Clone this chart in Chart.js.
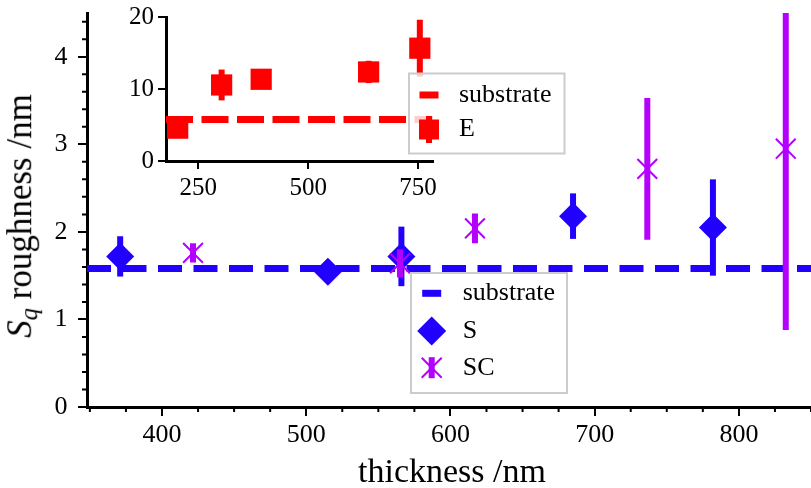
<!DOCTYPE html>
<html>
<head>
<meta charset="utf-8">
<script src="https://cdn.jsdelivr.net/npm/chart.js@4.4.1/dist/chart.umd.min.js"></script>
<style>
  body { margin: 0; background: #fff; }
  #wrap { position: relative; width: 811px; height: 488px; font-family: "Liberation Serif", serif; }
  canvas { position: absolute; left: 0; top: 0; }
  #ylabel { position: absolute; left: 22px; top: 216px; transform: translate(-50%, -50%) rotate(-90deg);
            font-size: 35px; line-height: 1; white-space: nowrap; }
  #xlabel { position: absolute; left: 452px; top: 454px; transform: translateX(-50%);
            font-size: 34px; line-height: 1; white-space: nowrap; }
</style>
</head>
<body>
<div id="wrap">
  <canvas id="mainChart" width="811" height="488"></canvas>
  <canvas id="insetChart" width="600" height="215"></canvas>
  <div id="ylabel"><i>S</i><sub style="font-size:0.7em;vertical-align:-0.25em"><i>q</i></sub> roughness /nm</div>
  <div id="xlabel">thickness /nm</div>
</div>
<script>
// main plot: S and SC samples
const sThickness = [371, 515, 566, 685, 782];
const sRoughness = [1.72, 1.545, 1.72, 2.18, 2.05];
const sError = [0.23, 0.08, 0.34, 0.26, 0.55];

const scThickness = [421.5, 565, 617, 736.5, 832.5];
const scRoughness = [1.76, 1.64, 2.04, 2.72, 2.95];
const scError = [0.11, 0.16, 0.17, 0.81, 2.07];

const substrateMain = 1.583;

// inset: E samples
const eThickness = [203, 303, 393, 637.5, 754];
const eRoughness = [4.56, 10.56, 11.35, 12.37, 15.67];
const eError = [0.5, 2.14, 0.8, 1.55, 3.95];

const substrateInset = 5.77;

// axes
const mainXRange = [348, 850];
const mainYRange = [0, 4.5];
const mainXTicks = [400, 500, 600, 700, 800];
const mainYTicks = [0, 1, 2, 3, 4];
const mainXMinor = [350, 375, 425, 450, 475, 525, 550, 575, 625, 650, 675, 725, 750, 775, 825, 850];
const mainYMinor = [0.2, 0.4, 0.6, 0.8, 1.2, 1.4, 1.6, 1.8, 2.2, 2.4, 2.6, 2.8, 3.2, 3.4, 3.6, 3.8, 4.2, 4.4];
const insetXRange = [176.4, 784];
const insetYRange = [0, 20];
const insetXTicks = [250, 500, 750];
const insetYTicks = [0, 10, 20];

const BLUE = "#2200ff";
const PURPLE = "#b400ff";
const RED = "#ff0000";
const FONT = "'Liberation Serif', serif";

Chart.defaults.font.family = FONT;
Chart.defaults.color = "#000";

const toPoints = (xs, ys) => xs.map((x, i) => ({ x: x, y: ys[i] }));

// vertical error bars, drawn just before their own dataset
const errorBars = {
  id: "errorBars",
  beforeDatasetDraw(chart, args) {
    const ds = chart.data.datasets[args.index];
    if (!ds.errors) return;
    const { ctx, chartArea: a, scales } = chart;
    ctx.save();
    ctx.beginPath();
    ctx.rect(a.left, a.top, a.right - a.left, a.bottom - a.top);
    ctx.clip();
    ctx.strokeStyle = ds.borderColor;
    ctx.lineWidth = 6;
    ds.data.forEach((p, i) => {
      const x = scales.x.getPixelForValue(p.x);
      ctx.beginPath();
      ctx.moveTo(x, scales.y.getPixelForValue(p.y - ds.errors[i]));
      ctx.lineTo(x, scales.y.getPixelForValue(p.y + ds.errors[i]));
      ctx.stroke();
    });
    ctx.restore();
  }
};

// minor ticks for the main axes
const minorTicks = {
  id: "minorTicks",
  afterDraw(chart) {
    const { ctx, chartArea: a, scales } = chart;
    ctx.save();
    ctx.strokeStyle = "#000";
    ctx.lineWidth = 2;
    ctx.beginPath();
    mainXMinor.forEach(v => {
      const x = scales.x.getPixelForValue(v);
      ctx.moveTo(x, a.bottom);
      ctx.lineTo(x, a.bottom + 5);
    });
    mainYMinor.forEach(v => {
      const y = scales.y.getPixelForValue(v);
      ctx.moveTo(a.left, y);
      ctx.lineTo(a.left - 5, y);
    });
    ctx.stroke();
    ctx.restore();
  }
};

function drawLegend(ctx, box, items) {
  ctx.save();
  ctx.fillStyle = "rgba(255,255,255,0.8)";
  ctx.fillRect(box.x, box.y, box.w, box.h);
  ctx.strokeStyle = "#cccccc";
  ctx.lineWidth = 2;
  ctx.strokeRect(box.x, box.y, box.w, box.h);
  items.forEach(it => {
    const hx = box.x + box.handleX;
    const y = box.y + it.dy;
    ctx.fillStyle = it.color;
    ctx.strokeStyle = it.color;
    if (it.kind === "dash") {
      ctx.lineWidth = 7;
      ctx.beginPath();
      ctx.moveTo(hx - 9.5, y);
      ctx.lineTo(hx + 9.5, y);
      ctx.stroke();
    } else if (it.kind === "diamond") {
      ctx.beginPath();
      ctx.moveTo(hx - 14.5, y);
      ctx.lineTo(hx, y - 14.5);
      ctx.lineTo(hx + 14.5, y);
      ctx.lineTo(hx, y + 14.5);
      ctx.closePath();
      ctx.fill();
    } else if (it.kind === "cross") {
      ctx.lineWidth = 6;
      ctx.beginPath();
      ctx.moveTo(hx, y - 10.5);
      ctx.lineTo(hx, y + 10.5);
      ctx.stroke();
      ctx.lineWidth = 2;
      ctx.beginPath();
      ctx.moveTo(hx - 10, y - 10);
      ctx.lineTo(hx + 10, y + 10);
      ctx.moveTo(hx + 10, y - 10);
      ctx.lineTo(hx - 10, y + 10);
      ctx.stroke();
    } else if (it.kind === "square") {
      ctx.lineWidth = 6;
      ctx.beginPath();
      ctx.moveTo(hx, y - 13.5);
      ctx.lineTo(hx, y + 13.5);
      ctx.stroke();
      ctx.fillRect(hx - 10, y - 10, 20, 20);
    }
    ctx.fillStyle = "#000";
    ctx.font = "26px " + FONT;
    ctx.textBaseline = "middle";
    ctx.fillText(it.label, box.x + box.textX, y);
  });
  ctx.restore();
}

const mainLegend = {
  id: "mainLegend",
  afterDraw(chart) {
    drawLegend(chart.ctx, { x: 411, y: 273, w: 156, h: 120, handleX: 20.7, textX: 51.7 }, [
      { kind: "dash", color: BLUE, label: "substrate", dy: 20.3 },
      { kind: "diamond", color: BLUE, label: "S", dy: 58 },
      { kind: "cross", color: PURPLE, label: "SC", dy: 94.7 }
    ]);
  }
};

const insetLegend = {
  id: "insetLegend",
  afterDraw(chart) {
    drawLegend(chart.ctx, { x: 409, y: 73.5, w: 155.5, h: 80, handleX: 20, textX: 50 }, [
      { kind: "dash", color: RED, label: "substrate", dy: 21.5 },
      { kind: "square", color: RED, label: "E", dy: 56 }
    ]);
  }
};

function axisOptions(range, ticks, fit, tickLength, pad, fontSize) {
  return {
    type: "linear",
    min: range[0],
    max: range[1],
    afterBuildTicks: s => { s.ticks = ticks.map(v => ({ value: v })); },
    afterFit: s => {
      Object.assign(s, fit);
      s.paddingTop = 0; s.paddingBottom = 0; s.paddingLeft = 0; s.paddingRight = 0;
    },
    grid: { drawOnChartArea: false, color: "#000", lineWidth: 2, tickLength: tickLength },
    border: { color: "#000", width: 3 },
    ticks: { color: "#000", padding: pad, font: { family: FONT, size: fontSize } }
  };
}

new Chart(document.getElementById("mainChart"), {
  type: "scatter",
  data: {
    datasets: [
      {
        label: "SC",
        data: toPoints(scThickness, scRoughness),
        errors: scError,
        pointStyle: "crossRot",
        pointRadius: 14,
        borderColor: PURPLE,
        backgroundColor: PURPLE,
        pointBorderWidth: 2,
        order: 1
      },
      {
        label: "S",
        data: toPoints(sThickness, sRoughness),
        errors: sError,
        pointStyle: "rectRot",
        pointRadius: 14,
        borderColor: BLUE,
        backgroundColor: BLUE,
        pointBorderWidth: 0,
        order: 2
      },
      {
        label: "substrate",
        type: "line",
        data: toPoints(mainXRange, [substrateMain, substrateMain]),
        borderColor: BLUE,
        borderWidth: 7,
        borderDash: [24, 11.5],
        pointRadius: 0,
        order: 3
      }
    ]
  },
  options: {
    responsive: false,
    animation: false,
    events: [],
    layout: { autoPadding: false, padding: { top: 13, right: 0, left: 0, bottom: 0 } },
    plugins: { legend: { display: false }, tooltip: { enabled: false } },
    scales: {
      x: axisOptions(mainXRange, mainXTicks, { height: 81 }, 9, 4, 26),
      y: axisOptions(mainYRange, mainYTicks, { width: 87 }, 9, 10.5, 26)
    }
  },
  plugins: [errorBars, minorTicks, mainLegend]
});

new Chart(document.getElementById("insetChart"), {
  type: "scatter",
  data: {
    datasets: [
      {
        label: "E",
        data: toPoints(eThickness, eRoughness),
        errors: eError,
        pointStyle: "rect",
        pointRadius: 15,
        borderColor: RED,
        backgroundColor: RED,
        pointBorderWidth: 0,
        order: 1
      },
      {
        label: "substrate",
        type: "line",
        data: toPoints(insetXRange, [substrateInset, substrateInset]),
        borderColor: RED,
        borderWidth: 7,
        borderDash: [27, 8.5],
        pointRadius: 0,
        order: 2
      }
    ]
  },
  options: {
    responsive: false,
    animation: false,
    events: [],
    layout: { autoPadding: false, padding: { top: 17, right: 167, left: 0, bottom: 0 } },
    plugins: { legend: { display: false }, tooltip: { enabled: false } },
    scales: {
      x: axisOptions(insetXRange, insetXTicks, { height: 54 }, 8, 4, 25),
      y: axisOptions(insetYRange, insetYTicks, { width: 166 }, 8, 4, 25)
    }
  },
  plugins: [errorBars, insetLegend]
});
</script>
</body>
</html>
